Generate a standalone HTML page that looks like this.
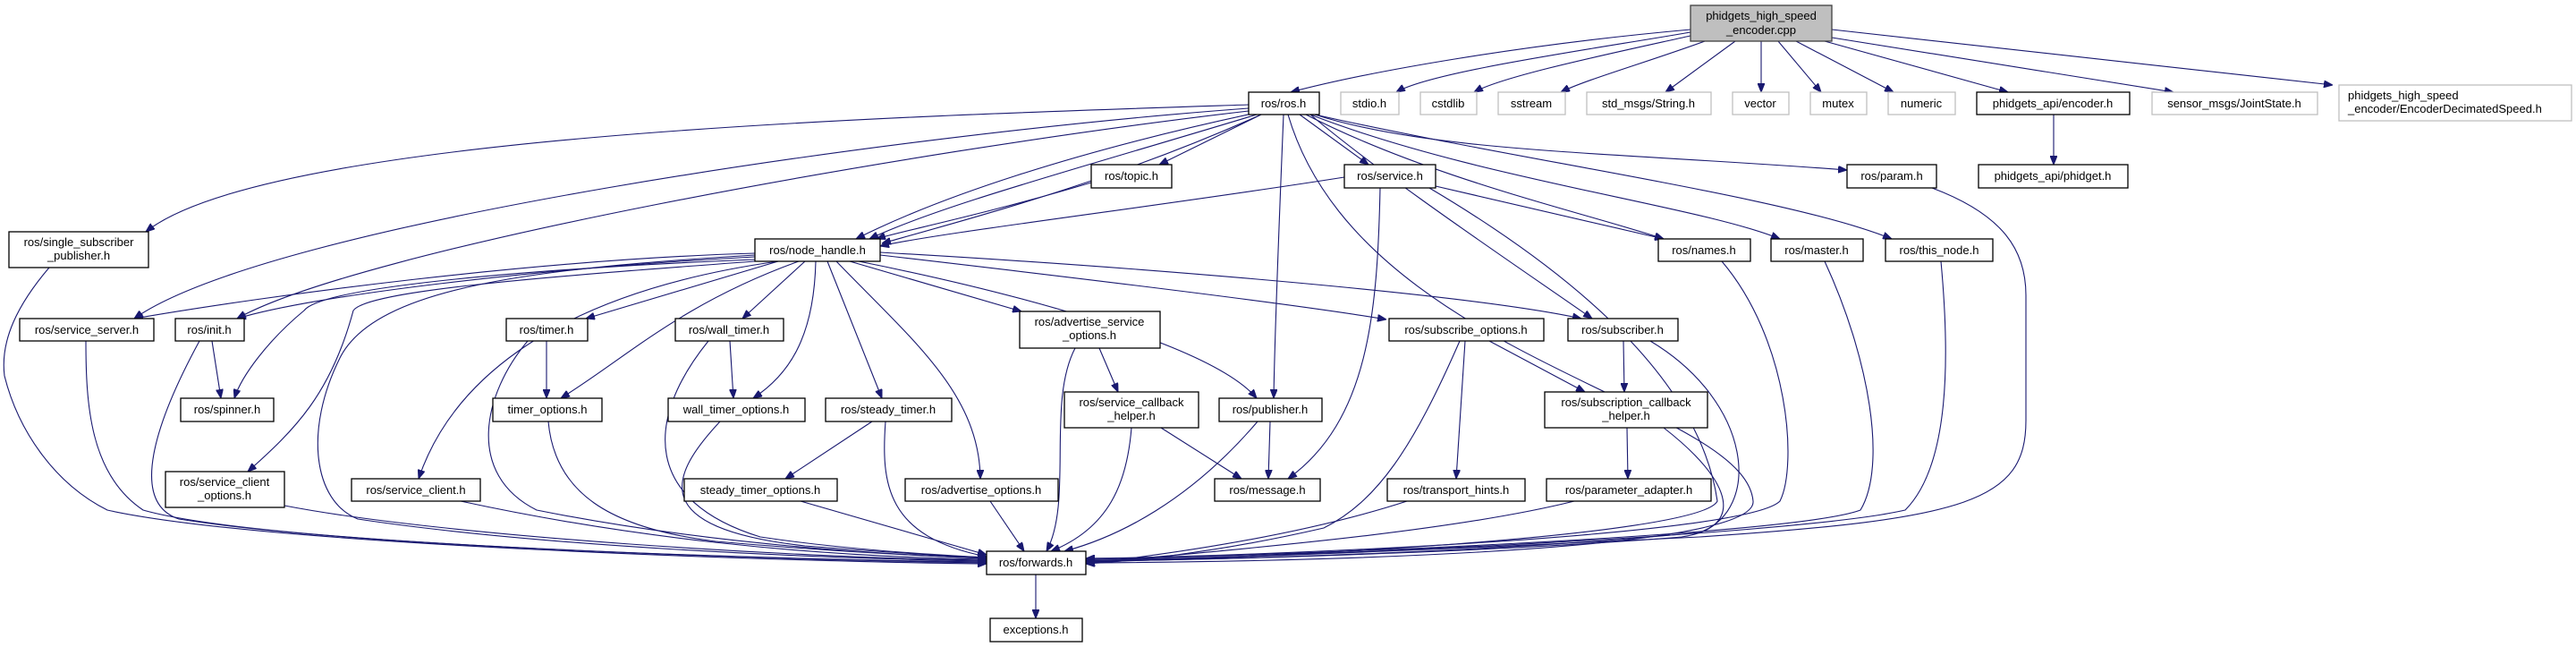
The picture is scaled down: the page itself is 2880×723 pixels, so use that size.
<!DOCTYPE html>
<html><head><meta charset="utf-8"><style>
html,body{margin:0;padding:0;background:#fff;width:2880px;height:723px;overflow:hidden}
svg{display:block}
text{font-family:"Liberation Sans",sans-serif;font-size:13px;fill:#000;text-anchor:middle}
.n{fill:#fff;stroke:#000;stroke-width:1.3}
.g{fill:#fff;stroke:#bfbfbf;stroke-width:1.3}
.m{fill:#bfbfbf;stroke:#404040;stroke-width:1.3}
path.e{fill:none;stroke:#191970;stroke-width:1.1;marker-end:url(#a)}
</style></head><body>
<svg width="2880" height="723" viewBox="0 0 2880 723" xmlns="http://www.w3.org/2000/svg">
<defs><marker id="a" markerUnits="userSpaceOnUse" markerWidth="10" markerHeight="8" refX="10" refY="4" orient="auto"><path d="M0,0 L10,4 L0,8 z" fill="#191970" stroke="#191970"/></marker></defs>
<g>
<!-- main -->
<path class="e" d="M1890,33 C1700,50 1530,80 1443,103"/>
<path class="e" d="M1890,36 C1780,55 1600,80 1561,103"/>
<path class="e" d="M1890,40 C1800,60 1680,85 1648,103"/>
<path class="e" d="M1906,46 C1840,70 1770,90 1745,103"/>
<path class="e" d="M1940,46 L1862,103"/>
<path class="e" d="M1969,46 L1969,103"/>
<path class="e" d="M1988,46 L2036,103"/>
<path class="e" d="M2008,46 L2117,103"/>
<path class="e" d="M2040,46 L2245,103"/>
<path class="e" d="M2048,42 L2430,103"/>
<path class="e" d="M2048,33 L2608,95"/>
<path class="e" d="M2296,128 L2296,184"/>
<!-- ros.h -->
<path class="e" d="M1396,117 C1000,130 300,150 163,259"/>
<path class="e" d="M1396,121 C1000,150 300,250 150,356"/>
<path class="e" d="M1396,124 C1000,170 400,280 265,356"/>
<path class="e" d="M1400,127 C1200,170 1050,220 957,267"/>
<path class="e" d="M1405,128 C1200,190 1050,230 972,267"/>
<path class="e" d="M1410,128 C1250,200 1100,240 986,272"/>
<path class="e" d="M1410,128 L1296,184"/>
<path class="e" d="M1435,128 C1430,250 1425,380 1424,445"/>
<path class="e" d="M1453,128 L1530,184"/>
<path class="e" d="M1465,128 C1550,200 1700,300 1780,356"/>
<path class="e" d="M1460,128 C1600,200 1780,240 1860,267"/>
<path class="e" d="M1465,128 C1650,200 1900,230 1990,267"/>
<path class="e" d="M1470,128 C1700,180 2000,220 2115,267"/>
<path class="e" d="M1470,128 C1600,170 1800,170 2065,190"/>
<path class="e" d="M1440,128 C1520,400 1950,450 1960,560 C1965,620 1400,628 1214,629"/>
<!-- right side into forwards -->
<path class="e" d="M2160,210 C2240,240 2265,280 2265,330 L2265,470 C2265,560 2200,580 1900,600 C1600,615 1300,626 1214,628"/>
<path class="e" d="M2170,292 C2180,400 2180,520 2130,570 C2000,600 1400,624 1214,626"/>
<path class="e" d="M2040,292 C2090,400 2110,520 2080,570 C2000,600 1400,622 1214,625"/>
<path class="e" d="M1925,292 C2000,380 2010,520 1990,560 C1950,600 1400,622 1214,624"/>
<path class="e" d="M1860,478 C1940,540 1950,590 1880,600 C1700,615 1400,625 1214,627"/>
<path class="e" d="M1845,381 C1960,450 1970,570 1900,595 C1700,615 1400,625 1214,627"/>
<path class="e" d="M1598,210 C1750,300 1900,420 1920,560 C1900,600 1400,625 1214,627"/>
<path class="e" d="M1760,560 C1600,600 1300,620 1214,630"/>
<path class="e" d="M1573,560 C1450,600 1300,620 1214,630"/>
<path class="e" d="M1632,381 C1580,500 1540,560 1480,590 C1350,620 1250,628 1214,630"/>
<path class="e" d="M1406,471 C1330,560 1250,600 1190,616"/>
<path class="e" d="M1265,478 C1260,540 1240,590 1175,616"/>
<path class="e" d="M1202,389 C1170,450 1200,560 1170,616"/>
<path class="e" d="M1107,560 L1145,616"/>
<!-- left side into forwards -->
<path class="e" d="M55,299 C20,340 0,380 5,420 C20,480 60,540 120,570 C300,610 900,628 1103,630"/>
<path class="e" d="M96,381 C96,450 100,530 160,570 C300,610 900,626 1103,629"/>
<path class="e" d="M223,381 C180,460 140,560 200,580 C400,612 900,626 1103,628"/>
<path class="e" d="M844,285 C600,300 420,320 380,400 C340,480 350,560 400,580 C600,610 900,624 1103,627"/>
<path class="e" d="M318,565 C500,600 900,624 1103,626"/>
<path class="e" d="M515,560 C700,600 900,622 1103,625"/>
<path class="e" d="M590,381 C540,440 520,530 600,570 C800,610 1000,620 1103,624"/>
<path class="e" d="M613,471 C620,550 680,590 800,605 C950,618 1050,622 1103,624"/>
<path class="e" d="M792,381 C720,470 720,560 850,600 C950,615 1050,620 1103,623"/>
<path class="e" d="M805,471 C750,530 720,590 900,610 C1000,618 1050,621 1103,623"/>
<path class="e" d="M990,471 C985,540 990,600 1103,622"/>
<path class="e" d="M895,560 L1103,620"/>
<!-- node_handle out -->
<path class="e" d="M844,283 C600,290 300,330 150,356"/>
<path class="e" d="M844,287 C600,300 350,330 265,356"/>
<path class="e" d="M844,290 C600,300 360,320 340,347 C300,380 270,420 262,445"/>
<path class="e" d="M844,292 C600,310 410,325 395,347 C370,440 330,480 277,527"/>
<path class="e" d="M870,292 C600,330 500,440 468,535"/>
<path class="e" d="M870,292 L655,356"/>
<path class="e" d="M893,292 C760,340 700,400 627,445"/>
<path class="e" d="M900,292 L830,356"/>
<path class="e" d="M912,292 C910,380 880,420 842,445"/>
<path class="e" d="M925,292 L986,445"/>
<path class="e" d="M935,292 C1020,380 1095,440 1096,535"/>
<path class="e" d="M950,292 L1142,348"/>
<path class="e" d="M960,292 C1100,320 1350,380 1405,445"/>
<path class="e" d="M984,285 C1200,310 1450,340 1550,357"/>
<path class="e" d="M984,282 C1300,300 1650,330 1768,356"/>
<!-- misc -->
<path class="e" d="M1220,204 C1100,240 1000,260 980,267"/>
<path class="e" d="M1503,198 C1300,230 1050,260 984,275"/>
<path class="e" d="M1605,208 L1860,267"/>
<path class="e" d="M1543,210 C1540,350 1530,470 1440,535"/>
<path class="e" d="M237,381 L247,445"/>
<path class="e" d="M611,381 L611,445"/>
<path class="e" d="M816,381 L820,445"/>
<path class="e" d="M975,471 L878,535"/>
<path class="e" d="M1229,389 L1250,438"/>
<path class="e" d="M1298,478 L1388,535"/>
<path class="e" d="M1420,471 L1418,535"/>
<path class="e" d="M1665,381 L1772,438"/>
<path class="e" d="M1638,381 L1628,535"/>
<path class="e" d="M1815,381 L1816,438"/>
<path class="e" d="M1819,478 L1820,535"/>
<path class="e" d="M1158,642 L1158,691"/>
</g>
<g>
<rect class="m" x="1890" y="6" width="158" height="40"/><text x="1969" y="22">phidgets_high_speed</text><text x="1969" y="38">_encoder.cpp</text>
<rect class="n" x="1396" y="103" width="79" height="25"/><text x="1435" y="120">ros/ros.h</text>
<rect class="g" x="1499" y="103" width="65" height="25"/><text x="1531" y="120">stdio.h</text>
<rect class="g" x="1588" y="103" width="63" height="25"/><text x="1619" y="120">cstdlib</text>
<rect class="g" x="1675" y="103" width="75" height="25"/><text x="1712" y="120">sstream</text>
<rect class="g" x="1774" y="103" width="139" height="25"/><text x="1843" y="120">std_msgs/String.h</text>
<rect class="g" x="1937" y="103" width="63" height="25"/><text x="1968" y="120">vector</text>
<rect class="g" x="2024" y="103" width="63" height="25"/><text x="2055" y="120">mutex</text>
<rect class="g" x="2111" y="103" width="75" height="25"/><text x="2148" y="120">numeric</text>
<rect class="n" x="2210" y="103" width="171" height="25"/><text x="2295" y="120">phidgets_api/encoder.h</text>
<rect class="g" x="2406" y="103" width="185" height="25"/><text x="2498" y="120">sensor_msgs/JointState.h</text>
<rect class="g" x="2615" y="95" width="260" height="40"/><text x="2625" y="111" style="text-anchor:start">phidgets_high_speed</text><text x="2625" y="126" style="text-anchor:start">_encoder/EncoderDecimatedSpeed.h</text>
<rect class="n" x="1220" y="184" width="90" height="26"/><text x="1265" y="201">ros/topic.h</text>
<rect class="n" x="1503" y="184" width="102" height="26"/><text x="1554" y="201">ros/service.h</text>
<rect class="n" x="2065" y="184" width="100" height="26"/><text x="2115" y="201">ros/param.h</text>
<rect class="n" x="2212" y="184" width="167" height="26"/><text x="2295" y="201">phidgets_api/phidget.h</text>
<rect class="n" x="10" y="259" width="156" height="40"/><text x="88" y="275">ros/single_subscriber</text><text x="88" y="290">_publisher.h</text>
<rect class="n" x="844" y="267" width="140" height="25"/><text x="914" y="284">ros/node_handle.h</text>
<rect class="n" x="1854" y="267" width="103" height="25"/><text x="1905" y="284">ros/names.h</text>
<rect class="n" x="1980" y="267" width="103" height="25"/><text x="2031" y="284">ros/master.h</text>
<rect class="n" x="2108" y="267" width="120" height="25"/><text x="2168" y="284">ros/this_node.h</text>
<rect class="n" x="22" y="356" width="150" height="25"/><text x="97" y="373">ros/service_server.h</text>
<rect class="n" x="196" y="356" width="77" height="25"/><text x="234" y="373">ros/init.h</text>
<rect class="n" x="566" y="356" width="91" height="25"/><text x="611" y="373">ros/timer.h</text>
<rect class="n" x="755" y="356" width="121" height="25"/><text x="815" y="373">ros/wall_timer.h</text>
<rect class="n" x="1140" y="348" width="157" height="41"/><text x="1218" y="364">ros/advertise_service</text><text x="1218" y="379">_options.h</text>
<rect class="n" x="1553" y="356" width="173" height="25"/><text x="1639" y="373">ros/subscribe_options.h</text>
<rect class="n" x="1753" y="356" width="123" height="25"/><text x="1814" y="373">ros/subscriber.h</text>
<rect class="n" x="202" y="445" width="104" height="26"/><text x="254" y="462">ros/spinner.h</text>
<rect class="n" x="551" y="445" width="122" height="26"/><text x="612" y="462">timer_options.h</text>
<rect class="n" x="747" y="445" width="153" height="26"/><text x="823" y="462">wall_timer_options.h</text>
<rect class="n" x="923" y="445" width="141" height="26"/><text x="993" y="462">ros/steady_timer.h</text>
<rect class="n" x="1190" y="438" width="150" height="40"/><text x="1265" y="454">ros/service_callback</text><text x="1265" y="469">_helper.h</text>
<rect class="n" x="1363" y="445" width="115" height="26"/><text x="1420" y="462">ros/publisher.h</text>
<rect class="n" x="1727" y="438" width="182" height="40"/><text x="1818" y="454">ros/subscription_callback</text><text x="1818" y="469">_helper.h</text>
<rect class="n" x="185" y="527" width="133" height="40"/><text x="251" y="543">ros/service_client</text><text x="251" y="558">_options.h</text>
<rect class="n" x="393" y="535" width="144" height="25"/><text x="465" y="552">ros/service_client.h</text>
<rect class="n" x="765" y="535" width="171" height="25"/><text x="850" y="552">steady_timer_options.h</text>
<rect class="n" x="1012" y="535" width="171" height="25"/><text x="1097" y="552">ros/advertise_options.h</text>
<rect class="n" x="1358" y="535" width="118" height="25"/><text x="1417" y="552">ros/message.h</text>
<rect class="n" x="1551" y="535" width="154" height="25"/><text x="1628" y="552">ros/transport_hints.h</text>
<rect class="n" x="1729" y="535" width="184" height="25"/><text x="1821" y="552">ros/parameter_adapter.h</text>
<rect class="n" x="1103" y="616" width="111" height="26"/><text x="1158" y="633">ros/forwards.h</text>
<rect class="n" x="1107" y="691" width="103" height="26"/><text x="1158" y="708">exceptions.h</text>
</g>
</svg>
</body></html>
